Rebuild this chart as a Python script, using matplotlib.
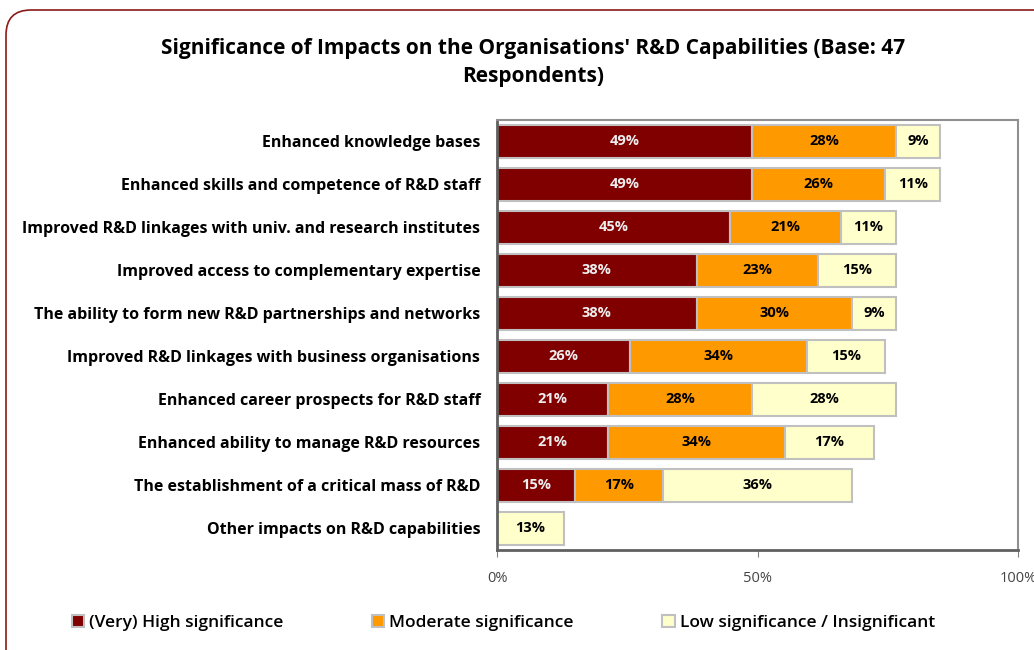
import numpy as np
import matplotlib.pyplot as plt
import matplotlib.patches as mpatches
from matplotlib.transforms import IdentityTransform

# categories, top to bottom
impacts = [
    "Enhanced knowledge bases",
    "Enhanced skills and competence of R&D staff",
    "Improved R&D linkages with univ. and research institutes",
    "Improved access to complementary expertise",
    "The ability to form new R&D partnerships and networks",
    "Improved R&D linkages with business organisations",
    "Enhanced career prospects for R&D staff",
    "Enhanced ability to manage R&D resources",
    "The establishment of a critical mass of R&D",
    "Other impacts on R&D capabilities",
]

# share of respondents (%)
high = [48.94, 48.94, 44.68, 38.30, 38.30, 25.53, 21.28, 21.28, 14.89, 0.0]
moderate = [27.66, 25.53, 21.28, 23.40, 29.79, 34.04, 27.66, 34.04, 17.02, 0.0]
low = [8.51, 10.64, 10.64, 14.89, 8.51, 14.89, 27.66, 17.02, 36.17, 12.77]

series_names = ["(Very) High significance", "Moderate significance",
                "Low significance / Insignificant"]
colors = ["#800000", "#FF9900", "#FFFFCC"]
label_colors = ["#EEEEEE", "black", "black"]

plt.rcParams['font.family'] = ['Open Sans', 'DejaVu Sans']

fig = plt.figure(figsize=(10.34, 6.5), dpi=100)
ax = fig.add_axes([497 / 1034, 1 - 550 / 650, 521 / 1034, 430 / 650])

ypos = np.arange(len(impacts))
left = np.zeros(len(impacts))
for vals, name, col, lcol in zip([high, moderate, low], series_names, colors, label_colors):
    vals = np.array(vals)
    bars = ax.barh(ypos, vals, left=left, height=0.76, color=col,
                   edgecolor="#C0C0C0", linewidth=1.5, label=name)
    for b, v in zip(bars, vals):
        if v > 0:
            ax.text(b.get_x() + b.get_width() / 2, b.get_y() + b.get_height() / 2,
                    f"{v:.0f}%", ha="center", va="center", fontsize=10.5,
                    fontweight="bold", color=lcol)
    left += vals

ax.set_xlim(0, 100)
ax.set_ylim(len(impacts) - 0.5, -0.5)
ax.set_yticks(ypos)
ax.set_yticklabels(impacts, fontsize=11.5, fontweight="bold")
ax.tick_params(axis="y", length=0, pad=12)
ax.set_xticks([0, 50, 100])
ax.set_xticklabels(["0%", "50%", "100%"], fontsize=10.5, color="#444444")
ax.tick_params(axis="x", length=5, color="#808080", pad=10)

for s in ["top", "right"]:
    ax.spines[s].set_color("#909090")
    ax.spines[s].set_linewidth(1.5)
for s in ["left", "bottom"]:
    ax.spines[s].set_color("#606060")
    ax.spines[s].set_linewidth(2)

fig.suptitle("Significance of Impacts on the Organisations' R&D Capabilities (Base: 47\nRespondents)",
             x=533 / 1034, y=1 - 38 / 650, fontsize=15, fontweight="bold", linespacing=1.45)

handles, labels = ax.get_legend_handles_labels()
fig.legend(handles, labels, loc="center left", bbox_to_anchor=(63 / 1034, 1 - 623 / 650),
           ncol=3, frameon=False, handlelength=0.7, handleheight=0.7,
           handletextpad=0.3, columnspacing=5.1, borderpad=0,
           prop={"weight": "semibold", "size": 12.5})

# rounded frame around the chart, running off the right and bottom edges
frame = mpatches.FancyBboxPatch((6, -40), 1100, 680, boxstyle="round,pad=0,rounding_size=25",
                                transform=IdentityTransform(), facecolor="none",
                                edgecolor="#8B1A1A", linewidth=1.2)
fig.patches.append(frame)

plt.savefig("out.png", dpi=100)
